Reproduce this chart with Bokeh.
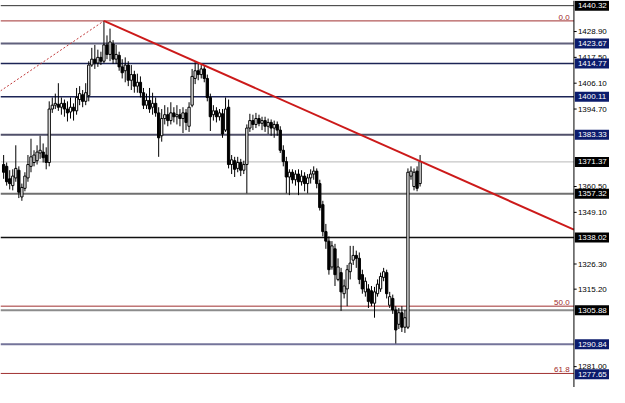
from bokeh.plotting import figure
from bokeh.models import Range1d, ColumnDataSource
from bokeh.embed import file_html
from bokeh.resources import INLINE
from bokeh.core.properties import value

opens = [1370.2, 1369.4, 1363.9, 1360.9, 1364.3, 1367.7, 1355.9, 1359.7, 1364.3, 1369.4, 1371.1, 1371.9, 1375.3, 1375.7, 1374.4, 1371.1,
         1394.7, 1396.4, 1396.8, 1395.5, 1397.2, 1394.7, 1393.4, 1395.5, 1393.9, 1398.9, 1401.0, 1398.1, 1400.6,
         1414.1, 1416.7, 1415.0, 1417.5, 1415.8, 1423.0, 1418.8, 1423.4, 1416.7,
         1418.4, 1413.3, 1411.6, 1414.1, 1407.4, 1409.9, 1404.8, 1406.5, 1401.9, 1396.4, 1398.5, 1395.5, 1397.2, 1393.0, 1382.9, 1390.5, 1392.2, 1389.6, 1393.0,
         1391.3, 1392.2, 1390.5, 1393.0, 1387.1, 1396.4, 1408.2, 1411.6, 1409.9, 1412.4, 1408.2, 1399.8, 1392.2, 1393.9, 1391.3, 1392.6, 1385.4, 1395.5, 1370.2, 1371.9, 1368.5, 1371.1, 1367.7, 1370.2,
         1386.3, 1389.6, 1387.9, 1390.5, 1388.4, 1389.6, 1387.1, 1388.8, 1386.3, 1387.9, 1385.4, 1376.5, 1371.5, 1364.7, 1366.8, 1363.5, 1366.0, 1362.6, 1365.1, 1361.8, 1364.3, 1366.0, 1367.3,
         1361.8, 1352.5, 1340.6, 1336.4, 1325.0, 1333.0, 1319.5, 1322.5, 1313.2, 1315.3, 1322.9, 1328.0, 1330.1, 1328.8, 1321.6, 1314.0, 1315.3, 1314.5, 1309.0, 1313.2, 1315.3, 1320.4, 1322.5, 1308.1, 1311.1, 1306.0, 1299.7, 1304.8, 1298.4, 1298.4, 1365.1, 1360.5, 1367.3, 1361.8]
highs = [1374.4, 1371.1, 1367.7, 1368.1, 1378.7, 1369.4, 1361.8, 1366.8, 1374.4, 1381.6, 1376.5, 1378.7, 1382.9, 1379.5, 1377.8, 1398.1,
         1399.8, 1401.5, 1406.1, 1399.8, 1398.9, 1398.1, 1399.8, 1397.2, 1404.0, 1404.8, 1403.1, 1406.1, 1415.8,
         1421.7, 1423.0, 1420.9, 1420.0, 1433.6, 1427.2, 1430.2, 1425.1, 1423.0,
         1420.0, 1416.7, 1417.5, 1415.8, 1414.1, 1411.6, 1410.3, 1409.1, 1404.0, 1401.5, 1404.0, 1401.9, 1399.8, 1395.5, 1394.7, 1396.4, 1395.5, 1397.7, 1395.5,
         1396.4, 1394.7, 1395.5, 1394.7, 1397.7, 1412.4, 1415.4, 1415.0, 1414.1, 1414.1, 1409.9, 1401.5, 1396.4, 1395.5, 1394.7, 1394.7, 1399.8, 1398.9, 1374.4, 1373.6, 1373.6, 1372.7, 1371.9, 1387.9,
         1392.6, 1392.2, 1393.0, 1392.2, 1391.3, 1391.3, 1390.5, 1390.1, 1389.6, 1389.2, 1387.1, 1378.7, 1373.6, 1368.1, 1368.1, 1367.7, 1368.1, 1367.7, 1366.8, 1366.0, 1368.1, 1369.4, 1368.5,
         1363.5, 1354.2, 1344.0, 1338.5, 1336.4, 1335.2, 1328.8, 1324.6, 1319.5, 1325.9, 1334.3, 1334.3, 1332.2, 1331.4, 1323.8, 1320.4, 1317.4, 1316.6, 1316.2, 1319.5, 1322.5, 1324.6, 1323.8, 1314.0, 1312.8, 1307.7, 1306.9, 1307.7, 1306.0, 1368.5, 1369.4, 1368.5, 1369.4, 1374.4]
lows = [1363.9, 1360.9, 1359.2, 1358.8, 1362.6, 1355.4, 1354.2, 1358.4, 1362.6, 1366.8, 1369.4, 1370.2, 1372.7, 1371.1, 1368.1, 1369.4,
        1393.0, 1394.7, 1393.9, 1392.2, 1391.3, 1389.2, 1390.5, 1389.6, 1392.2, 1396.4, 1395.5, 1396.4, 1398.1,
        1413.3, 1412.4, 1413.3, 1414.1, 1415.0, 1416.7, 1415.8, 1414.6, 1414.6,
        1411.6, 1408.2, 1406.5, 1404.8, 1403.1, 1401.9, 1401.9, 1399.8, 1394.7, 1394.7, 1393.0, 1392.2, 1391.3, 1373.6, 1380.3, 1387.9, 1387.1, 1387.9, 1388.8,
        1387.9, 1387.1, 1384.1, 1385.4, 1384.6, 1395.5, 1405.7, 1407.4, 1408.2, 1406.5, 1398.1, 1385.0, 1389.6, 1388.8, 1389.6, 1382.0, 1384.6, 1368.5, 1366.0, 1364.7, 1366.8, 1365.1, 1366.0, 1357.5,
        1384.6, 1385.4, 1386.3, 1387.1, 1385.4, 1384.6, 1383.7, 1382.9, 1382.0, 1382.9, 1375.3, 1369.4, 1357.5, 1356.7, 1361.8, 1360.9, 1356.7, 1360.9, 1358.4, 1357.5, 1361.8, 1363.5, 1359.7,
        1349.9, 1338.5, 1333.0, 1321.6, 1323.8, 1316.6, 1318.7, 1305.6, 1311.1, 1307.7, 1319.5, 1325.9, 1324.6, 1317.4, 1313.2, 1311.9, 1306.9, 1307.7, 1302.6, 1311.9, 1314.0, 1318.7, 1311.1, 1306.9, 1304.3, 1291.2, 1297.6, 1296.3, 1295.9, 1297.6, 1363.5, 1358.8, 1358.4, 1360.5]
closes = [1366.8, 1362.6, 1361.8, 1365.1, 1368.5, 1358.0, 1360.1, 1365.1, 1370.2, 1373.6, 1374.4, 1375.7, 1376.5, 1373.2, 1371.1, 1394.7,
          1396.4, 1397.2, 1395.5, 1397.2, 1394.7, 1393.0, 1395.5, 1393.9, 1399.8, 1401.5, 1398.1, 1401.9, 1414.1,
          1416.7, 1415.0, 1417.5, 1415.8, 1423.0, 1418.8, 1424.3, 1416.7, 1418.8,
          1413.3, 1410.7, 1414.1, 1407.4, 1409.9, 1404.8, 1406.5, 1401.9, 1396.4, 1398.5, 1394.7, 1397.2, 1393.0, 1382.0, 1390.5, 1392.2, 1389.6, 1393.0, 1391.3,
          1392.2, 1390.5, 1393.0, 1388.8, 1395.5, 1409.1, 1411.6, 1409.9, 1412.4, 1408.2, 1399.8, 1391.3, 1393.9, 1391.3, 1393.0, 1383.7, 1394.7, 1370.2, 1372.3, 1368.1, 1371.1, 1367.7, 1370.2, 1386.3,
          1389.6, 1387.9, 1390.5, 1388.4, 1389.6, 1387.1, 1388.8, 1386.3, 1387.9, 1385.4, 1376.5, 1371.5, 1364.7, 1366.8, 1363.5, 1366.0, 1362.6, 1365.1, 1361.8, 1364.3, 1366.0, 1367.3, 1361.8,
          1351.2, 1340.6, 1336.4, 1323.8, 1334.3, 1321.6, 1325.0, 1314.0, 1316.6, 1323.8, 1326.7, 1330.1, 1328.8, 1319.5, 1315.3, 1318.7, 1309.8, 1309.0, 1314.0, 1317.4, 1320.8, 1322.9, 1313.2, 1311.9, 1306.0, 1297.2, 1304.8, 1298.4, 1302.6, 1366.8, 1367.3, 1366.8, 1359.7, 1371.5]

# horizontal price levels with their boxes on the price scale
level_prices = [1440.32, 1423.67, 1414.77, 1400.11, 1383.33, 1371.37, 1357.32, 1338.02, 1305.88, 1290.84, 1277.65]
level_line_colors = ["#303030", "#60607c", "#1c2456", "#1c2456", "#50506a", "#b8b8b8", "#707070", "#101010", "#8c8c8c", "#74749a", None]
level_line_widths = [1, 2, 1.5, 1.5, 2, 1, 2, 1.5, 2, 2, 1]
level_box_colors = ["#000000", "#0c1c6c", "#0c1c6c", "#0c1c6c", "#0c1c6c", "#000000", "#000000", "#000000", "#000000", "#0c1c6c", "#0c1c6c"]

# Fibonacci levels
fib_names = ["0.0", "50.0", "61.8"]
fib_prices = [1433.6, 1307.7, 1278.0]

# price scale tick labels
tick_values = [1428.90, 1417.50, 1406.10, 1394.70, 1360.50, 1349.10, 1326.30, 1315.20, 1281.00]

# index range of the chart area and position of the price scale line
XR = (-1.03, 199.3)
YR = (1271.8, 1442.6)
AXIS_X = 187.6

# trend line and dashed fib base line (bar index, price)
trend_x = [33, AXIS_X]
trend_y = [1433.6, 1341.5]
dash_x = [XR[0], 33]
dash_y = [1402.7, 1433.6]

FONT = value("Liberation Sans")

idx = list(range(len(opens)))
up = [c >= o for o, c in zip(opens, closes)]
src = ColumnDataSource(dict(
    x=idx, o=opens, h=highs, l=lows, c=closes,
    top=[max(o, c) for o, c in zip(opens, closes)],
    bot=[min(o, c) for o, c in zip(opens, closes)],
    fill=["#ffffff" if u else "#000000" for u in up],
))

p = figure(width=609, height=387, output_backend="svg", toolbar_location=None,
           x_range=Range1d(*XR), y_range=Range1d(*YR),
           x_axis_location=None, y_axis_location=None,
           min_border_left=0, min_border_top=0, min_border_bottom=0, min_border_right=0)
p.background_fill_color = "white"
p.border_fill_color = "white"
p.outline_line_color = None
p.grid.visible = False

# level lines (stop at the price scale)
lv = [(pr, c, w) for pr, c, w in zip(level_prices, level_line_colors, level_line_widths) if c is not None]
p.segment(x0=[XR[0]] * len(lv), x1=[AXIS_X] * len(lv), y0=[a[0] for a in lv], y1=[a[0] for a in lv],
          line_color=[a[1] for a in lv], line_width=[a[2] for a in lv])
p.segment(x0=[XR[0]] * len(fib_prices), x1=[AXIS_X] * len(fib_prices), y0=fib_prices, y1=fib_prices,
          line_color="#a03030", line_width=1)

# candles
p.segment(x0="x", y0="h", x1="x", y1="l", source=src, line_color="black", line_width=1)
p.vbar(x="x", top="top", bottom="bot", width=0.75, source=src, fill_color="fill", line_color="black", line_width=1)

p.line(dash_x, dash_y, line_color="#c03838", line_width=1, line_dash="2 2")
p.line(trend_x, trend_y, line_color="#cc1a1a", line_width=2)

p.text(x=[186.2] * len(fib_prices), y=fib_prices, text=fib_names, text_align="right", text_baseline="bottom",
       text_font=FONT, text_font_size="8px", text_color="#a02828", y_offset=-1)

# price scale: line, tick marks, tick labels
p.segment(x0=[AXIS_X], x1=[AXIS_X], y0=[YR[0]], y1=[YR[1]], line_color="black", line_width=1)
p.segment(x0=[AXIS_X] * len(tick_values), x1=[AXIS_X + 0.9] * len(tick_values), y0=tick_values, y1=tick_values,
          line_color="black", line_width=1)
p.text(x=[AXIS_X + 1.3] * len(tick_values), y=tick_values, text=[f"{t:.2f}" for t in tick_values],
       text_align="left", text_baseline="middle", text_font=FONT, text_font_size="8px", text_color="black")

# level boxes on the price scale
bx0 = AXIS_X + 0.3
p.rect(x=[(bx0 + XR[1]) / 2] * len(level_prices), y=level_prices, width=XR[1] - bx0, height=10,
       height_units="screen", fill_color=level_box_colors, line_color=None)
p.text(x=[AXIS_X + 1.3] * len(level_prices), y=level_prices, text=[f"{v:.2f}" for v in level_prices],
       text_align="left", text_baseline="middle", text_font=FONT, text_font_size="8px", text_color="white")

open("out.html", "w").write(file_html(p, INLINE))
